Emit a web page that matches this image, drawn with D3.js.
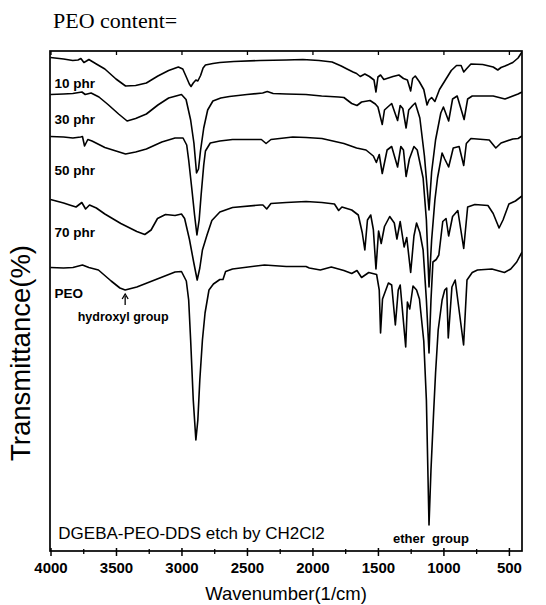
<!DOCTYPE html>
<html>
<head>
<meta charset="utf-8">
<script src="https://cdn.jsdelivr.net/npm/d3@7"></script>
<style>
    body { margin: 0; background: #fff; }
    svg { display: block; }
</style>
</head>
<body>
<script>

// spectra: [wavenumber (1/cm), transmittance (offset, a.u.)]
const series_names = ["10 phr", "30 phr", "50 phr", "70 phr", "PEO"];

const phr10 = [
    [4000, 98.7], [3900, 98.4], [3830, 98.1], [3790, 98.2], [3768, 98.5], [3745, 97.7], [3725, 98.0],
    [3707, 98.3], [3650, 97.4], [3585, 96.4], [3500, 94.4], [3427, 93.0], [3350, 93.1], [3268, 93.6],
    [3180, 95.0], [3098, 96.1], [3024, 96.8], [2990, 96.4], [2963, 94.8], [2940, 93.4], [2927, 92.9],
    [2910, 93.6], [2890, 94.2], [2875, 94.0], [2854, 95.1], [2835, 96.6], [2817, 97.2], [2760, 97.5],
    [2707, 97.7], [2600, 97.9], [2400, 98.1], [2200, 98.2], [2073, 98.3], [1950, 98.1], [1850, 97.8],
    [1780, 97.0], [1736, 96.4], [1690, 95.8], [1663, 95.5], [1635, 94.9], [1600, 95.4], [1565, 94.9],
    [1530, 94.2], [1515, 91.8], [1500, 94.8], [1480, 95.2], [1455, 94.3], [1420, 94.6], [1385, 94.9],
    [1340, 95.2], [1305, 94.5], [1275, 94.2], [1250, 92.0], [1235, 94.5], [1215, 95.0], [1185, 93.9],
    [1150, 92.3], [1125, 89.2], [1110, 90.2], [1090, 90.7], [1065, 89.9], [1030, 92.3], [985, 94.2],
    [940, 96.1], [900, 97.1], [865, 97.1], [845, 95.8], [825, 96.4], [790, 97.4], [700, 97.3],
    [620, 96.8], [585, 96.2], [560, 96.7], [530, 97.0], [470, 97.7], [430, 98.6], [415, 99.2], [400, 99.8]
];

const phr30 = [
    [4000, 91.3], [3900, 91.4], [3830, 91.5], [3760, 91.8], [3735, 91.3], [3690, 91.6], [3630, 90.8],
    [3561, 89.3], [3480, 87.4], [3415, 86.0], [3350, 86.5], [3268, 87.4], [3180, 89.2], [3098, 90.6],
    [3000, 91.3], [2965, 90.3], [2930, 86.2], [2905, 81.6], [2885, 75.6], [2870, 76.4], [2855, 80.0],
    [2830, 84.6], [2800, 88.2], [2760, 90.0], [2700, 90.6], [2634, 90.9], [2500, 91.3], [2380, 91.6],
    [2345, 91.9], [2300, 91.5], [2200, 91.4], [2050, 91.3], [1930, 91.0], [1800, 90.8], [1760, 90.7],
    [1700, 89.5], [1660, 89.1], [1625, 89.8], [1560, 90.1], [1520, 89.4], [1500, 88.8], [1467, 85.3],
    [1450, 88.2], [1425, 88.8], [1395, 89.5], [1350, 86.1], [1330, 89.1], [1310, 88.5], [1285, 84.6],
    [1265, 88.2], [1235, 89.1], [1215, 89.6], [1180, 86.6], [1145, 79.0], [1110, 68.2], [1090, 75.8],
    [1060, 82.2], [1020, 87.6], [1000, 88.8], [960, 86.0], [930, 90.4], [895, 91.0], [842, 86.3],
    [815, 90.4], [780, 91.0], [700, 91.0], [620, 91.0], [530, 90.4], [470, 91.0], [430, 91.4], [400, 91.8]
];

const phr50 = [
    [4000, 82.9], [3900, 82.8], [3829, 82.6], [3770, 82.8], [3756, 82.9], [3740, 81.0], [3715, 82.3],
    [3683, 82.0], [3585, 80.7], [3500, 80.0], [3427, 79.4], [3350, 79.8], [3268, 80.4], [3150, 81.8],
    [3049, 82.6], [2988, 82.6], [2960, 81.2], [2945, 78.2], [2920, 72.2], [2900, 67.2], [2882, 63.2],
    [2865, 66.2], [2850, 71.2], [2830, 77.2], [2817, 80.0], [2780, 81.6], [2707, 82.0], [2610, 82.3],
    [2390, 82.3], [2354, 81.5], [2317, 82.3], [2150, 82.8], [2049, 82.7], [1928, 82.5], [1760, 81.5],
    [1663, 80.6], [1591, 80.2], [1535, 79.0], [1512, 77.7], [1490, 79.3], [1467, 75.5], [1430, 80.2],
    [1395, 80.9], [1350, 76.8], [1325, 80.9], [1305, 80.2], [1285, 74.9], [1260, 78.4], [1225, 80.9],
    [1200, 80.2], [1155, 74.6], [1130, 66.2], [1110, 52.8], [1090, 62.2], [1065, 70.2], [1045, 74.6],
    [1010, 79.6], [990, 78.4], [960, 76.8], [925, 80.6], [880, 80.9], [845, 77.1], [825, 81.5],
    [790, 82.5], [650, 82.2], [600, 80.6], [560, 81.6], [470, 82.4], [430, 82.5], [400, 83.0]
];

const phr70 = [
    [4000, 70.3], [3900, 69.6], [3854, 69.2], [3805, 68.8], [3761, 69.7], [3732, 68.4], [3702, 69.2],
    [3650, 68.6], [3585, 67.4], [3463, 65.5], [3341, 63.9], [3280, 63.3], [3232, 64.2], [3183, 66.5],
    [3122, 67.3], [3049, 67.1], [3000, 67.4], [2976, 66.5], [2939, 62.3], [2907, 57.8], [2880, 54.2],
    [2860, 56.6], [2840, 60.2], [2805, 63.2], [2768, 66.1], [2707, 67.8], [2610, 68.7], [2400, 69.2],
    [2378, 69.2], [2349, 68.4], [2317, 69.5], [2200, 69.7], [2049, 69.9], [1928, 69.7], [1832, 69.4],
    [1800, 68.1], [1775, 68.8], [1700, 68.2], [1650, 67.2], [1620, 63.7], [1600, 60.2], [1580, 66.2],
    [1555, 67.2], [1535, 64.3], [1515, 56.4], [1495, 64.0], [1475, 61.5], [1450, 64.9], [1410, 66.9],
    [1375, 65.6], [1355, 62.4], [1330, 65.9], [1300, 60.8], [1280, 62.7], [1250, 55.7], [1225, 63.0],
    [1205, 65.6], [1180, 63.7], [1155, 60.2], [1130, 50.2], [1110, 39.6], [1095, 50.2], [1080, 57.8],
    [1055, 58.3], [1035, 59.2], [1005, 65.9], [980, 66.5], [960, 63.0], [930, 66.9], [890, 68.1],
    [845, 60.5], [815, 68.8], [760, 69.3], [660, 69.1], [620, 67.5], [575, 64.6], [545, 66.2],
    [500, 69.4], [450, 70.0], [400, 71.0]
];

const peo = [
    [4000, 56.7], [3900, 56.6], [3829, 56.7], [3756, 57.2], [3707, 56.7], [3634, 56.2], [3537, 54.0],
    [3470, 52.6], [3430, 52.2], [3341, 52.8], [3195, 54.3], [3049, 55.8], [3000, 55.9], [2963, 54.0],
    [2945, 50.2], [2930, 42.2], [2910, 30.2], [2890, 22.2], [2875, 26.2], [2860, 34.2], [2840, 42.2],
    [2820, 47.6], [2790, 52.2], [2756, 53.4], [2707, 54.3], [2683, 54.3], [2663, 55.9], [2610, 56.4],
    [2366, 57.2], [2200, 56.9], [2049, 56.9], [2024, 56.6], [1940, 56.2], [1856, 56.8], [1760, 56.1],
    [1700, 55.5], [1660, 56.1], [1625, 54.7], [1570, 55.7], [1510, 55.3], [1490, 52.2], [1480, 43.6],
    [1465, 50.4], [1420, 53.6], [1395, 53.2], [1367, 45.2], [1345, 52.2], [1330, 53.2], [1288, 40.8],
    [1275, 49.8], [1257, 48.4], [1232, 53.0], [1205, 52.2], [1183, 50.4], [1150, 42.0], [1130, 30.2],
    [1110, 5.2], [1095, 16.2], [1075, 27.6], [1060, 35.6], [1040, 44.2], [1010, 50.2], [990, 52.2],
    [975, 52.6], [963, 42.6], [935, 52.8], [910, 54.2], [846, 41.2], [820, 54.2], [780, 55.7],
    [740, 56.2], [630, 56.4], [534, 55.7], [486, 56.4], [440, 57.8], [400, 59.8]
];

const spectra = [phr10, phr30, phr50, phr70, peo];
// where each series name sits, as [wavenumber, transmittance] of the text baseline
const label_spots = [[3970, 92.6], [3970, 85.4], [3970, 75.2], [3970, 62.8], [3970, 50.6]];

const x_ticks = [4000, 3500, 3000, 2500, 2000, 1500, 1000, 500];
const x_minor_ticks = [3750, 3250, 2750, 2250, 1750, 1250, 750];

class FtirChart {
    constructor(width = 546, height = 605) {
        this.total_width = width;
        this.total_height = height;
        this.margin = { top: 51, right: 24, bottom: 54, left: 50 };
        this.graph_width = this.total_width - this.margin.left - this.margin.right;
        this.graph_height = this.total_height - this.margin.top - this.margin.bottom;
        this.x = d3.scaleLinear().domain([4000, 400]).range([0.5, this.graph_width]);
        this.y = d3.scaleLinear().domain([0, 100]).range([this.graph_height, 0]);
    }

    construct_svg(self = this) {
        self.svg_container = d3.select("body").append("svg")
            .attr("width", self.total_width)
            .attr("height", self.total_height);
        self.svg_container.append("rect")
            .attr("width", self.total_width).attr("height", self.total_height)
            .attr("fill", "#fff");
        self.inner_graph = self.svg_container.append("g")
            .attr("transform", "translate(" + self.margin.left + "," + self.margin.top + ")");
        self.inner_graph.append("clipPath").attr("id", "plot_clip")
            .append("rect").attr("width", self.graph_width).attr("height", self.graph_height);
    }

    construct_axes(self = this) {
        const g = self.inner_graph;
        // bottom axis, major ticks cross the line
        g.append("g")
            .attr("transform", "translate(0," + self.graph_height + ")")
            .call(d3.axisBottom(self.x).tickValues(x_ticks).tickSize(5).tickPadding(6).tickFormat(d3.format("d")))
            .call(a => a.select(".domain").remove())
            .call(a => a.selectAll(".tick line").attr("y1", -3).attr("stroke-width", 1.5))
            .call(a => a.selectAll(".tick text")
                .attr("font-family", "Liberation Sans, Arial, sans-serif")
                .attr("font-size", 15).attr("font-weight", "bold").attr("fill", "#000"));
        g.append("g")
            .attr("transform", "translate(0," + self.graph_height + ")")
            .call(d3.axisBottom(self.x).tickValues(x_minor_ticks).tickSize(3).tickFormat(""))
            .call(a => a.select(".domain").remove())
            .call(a => a.selectAll(".tick line").attr("y1", -2).attr("stroke-width", 1.3));
        // top ticks point inward
        g.append("g")
            .call(d3.axisTop(self.x).tickValues(x_ticks).tickSize(-4).tickFormat(""))
            .call(a => a.select(".domain").remove())
            .call(a => a.selectAll(".tick line").attr("stroke-width", 1.3));
        // frame
        g.append("rect")
            .attr("width", self.graph_width).attr("height", self.graph_height)
            .attr("fill", "none").attr("stroke", "#000").attr("stroke-width", 1.7);

        self.svg_container.append("text")
            .attr("x", self.margin.left + self.graph_width / 2)
            .attr("y", 600)
            .attr("text-anchor", "middle")
            .attr("font-family", "Liberation Sans, Arial, sans-serif")
            .attr("font-size", 18.5)
            .text("Wavenumber(1/cm)");
        self.svg_container.append("text")
            .attr("transform", "translate(30,353) rotate(-90)")
            .attr("text-anchor", "middle")
            .attr("font-family", "Liberation Sans, Arial, sans-serif")
            .attr("font-size", 27.5)
            .text("Transmittance(%)");
    }

    construct_traces(self = this) {
        const line = d3.line()
            .x(d => self.x(d[0]))
            .y(d => self.y(d[1]))
            .curve(d3.curveLinear);
        self.traces = self.inner_graph.append("g")
            .attr("clip-path", "url(#plot_clip)")
            .selectAll("path")
            .data(spectra)
            .enter().append("path")
            .attr("d", line)
            .attr("fill", "none")
            .attr("stroke", "#000")
            .attr("stroke-width", 1.6)
            .attr("stroke-linejoin", "round");
    }

    construct_labels(self = this) {
        const g = self.inner_graph;
        const sans = "Liberation Sans, Arial, sans-serif";
        g.selectAll(".series_label")
            .data(series_names)
            .enter().append("text")
            .attr("class", "series_label")
            .attr("x", (d, i) => self.x(label_spots[i][0]))
            .attr("y", (d, i) => self.y(label_spots[i][1]))
            .attr("font-family", sans).attr("font-size", 13.5).attr("font-weight", "bold")
            .text(d => d);

        // hydroxyl arrow under the PEO band
        const ax = self.x(3430);
        const ay = self.y(51.4);
        g.append("line").attr("x1", ax).attr("x2", ax).attr("y1", ay + 2).attr("y2", ay + 11)
            .attr("stroke", "#000").attr("stroke-width", 1.3);
        g.append("path").attr("d", "M" + (ax - 3) + "," + (ay + 5) + "L" + ax + "," + ay + "L" + (ax + 3) + "," + (ay + 5))
            .attr("fill", "none").attr("stroke", "#000").attr("stroke-width", 1.3);
        g.append("text").attr("x", ax - 2).attr("y", ay + 27)
            .attr("text-anchor", "middle")
            .attr("font-family", sans).attr("font-size", 12.5).attr("font-weight", "bold")
            .text("hydroxyl group");

        g.append("text").attr("x", self.x(3940)).attr("y", self.graph_height - 12)
            .attr("font-family", sans).attr("font-size", 17)
            .text("DGEBA-PEO-DDS etch by CH2Cl2");
        g.append("text").attr("x", self.x(1095)).attr("y", self.graph_height - 8)
            .attr("text-anchor", "middle")
            .attr("font-family", sans).attr("font-size", 13).attr("font-weight", "bold")
            .style("white-space", "pre")
            .text("ether  group");

        self.svg_container.append("text")
            .attr("x", 53).attr("y", 28)
            .attr("font-family", "Liberation Serif, Times New Roman, serif")
            .attr("font-size", 22)
            .text("PEO content=");
    }
}

const chart = new FtirChart();
chart.construct_svg();
chart.construct_axes();
chart.construct_traces();
chart.construct_labels();
</script>
</body>
</html>
